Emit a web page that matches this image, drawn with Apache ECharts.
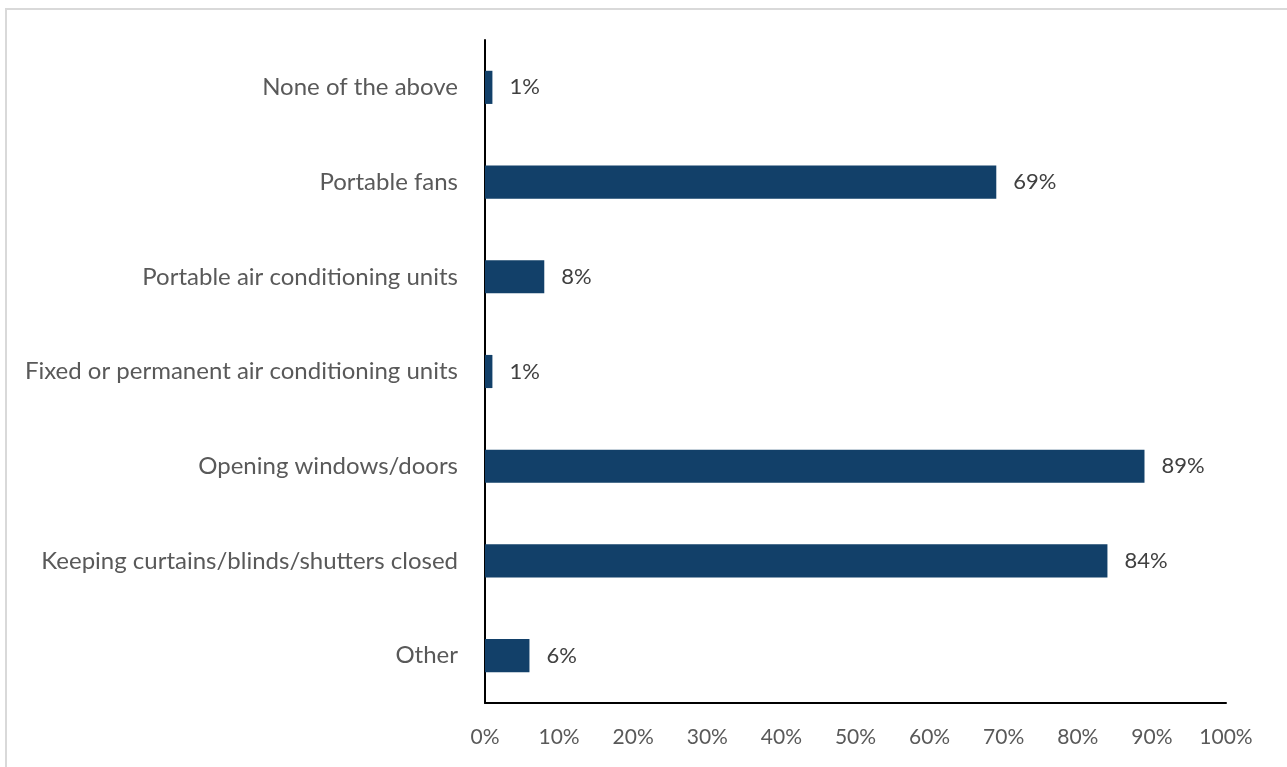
<!DOCTYPE html>
<html>
<head>
<meta charset="utf-8">
<script src="https://cdn.jsdelivr.net/npm/echarts@6/dist/echarts.min.js"></script>
<style>
  html, body { margin: 0; padding: 0; background: #fff; }
  #chart { width: 1287px; height: 767px; }
</style>
</head>
<body>
<div id="chart"></div>
<script>
// Cooling methods used at home (share of respondents, %)
const categories = [
  'None of the above',
  'Portable fans',
  'Portable air conditioning units',
  'Fixed or permanent air conditioning units',
  'Opening windows/doors',
  'Keeping curtains/blinds/shutters closed',
  'Other'
];
const values = [1, 69, 8, 1, 89, 84, 6];
const tickValues = [0, 10, 20, 30, 40, 50, 60, 70, 80, 90, 100];

const FONT = 'Lato, "Open Sans", sans-serif';
const chart = echarts.init(document.getElementById('chart'), null, { renderer: 'canvas' });

chart.setOption({
  animation: false,
  backgroundColor: '#ffffff',
  graphic: [{
    type: 'rect',
    shape: { x: 6, y: 9, width: 1320, height: 800 },
    style: { fill: 'none', stroke: '#d9d9d9', lineWidth: 2 },
    silent: true
  }],
  grid: { left: 485, right: 61, top: 40, bottom: 64 },
  xAxis: {
    type: 'value',
    min: tickValues[0],
    max: tickValues[tickValues.length - 1],
    interval: 10,
    axisLine: { show: true, lineStyle: { color: '#000', width: 2 } },
    axisTick: { show: false },
    splitLine: { show: false },
    axisLabel: {
      formatter: v => v + '%',
      color: '#595959',
      fontFamily: FONT,
      fontSize: 21,
      margin: 24
    }
  },
  yAxis: {
    type: 'category',
    inverse: true,
    data: categories,
    axisLine: { show: true, lineStyle: { color: '#000', width: 2 } },
    axisTick: { show: false },
    axisLabel: {
      color: '#595959',
      fontFamily: FONT,
      fontSize: 24,
      margin: 27
    }
  },
  series: [{
    type: 'bar',
    data: values,
    barWidth: '35%',
    itemStyle: { color: '#124069' },
    label: {
      show: true,
      position: 'right',
      distance: 17,
      formatter: p => p.value + '%',
      color: '#404040',
      fontFamily: FONT,
      fontSize: 22
    }
  }]
});
</script>
</body>
</html>
